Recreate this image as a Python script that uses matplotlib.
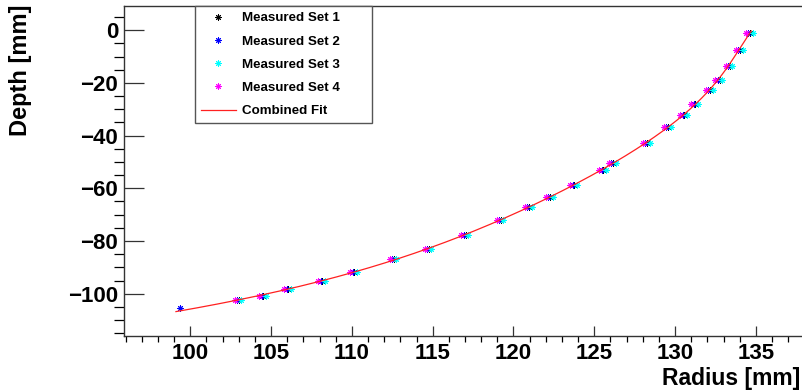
import matplotlib

matplotlib.use("Agg")
import matplotlib.pyplot as plt  # noqa: E402
import numpy as np  # noqa: E402
from matplotlib.ticker import MultipleLocator  # noqa: E402

plt.rcParams.update({"font.family": ["Liberation Sans", "DejaVu Sans"], "font.weight": "bold"})

# probe depth positions [mm]
depth = [-105.6, -102.5, -100.8, -98.4, -95.0, -91.7, -87.0, -83.0, -77.7, -72.2, -67.0, -63.4,
         -58.9, -53.2, -50.5, -42.8, -36.7, -32.1, -28.0, -22.6, -18.7, -13.4, -7.5, -1.1]

# measured radius per set [mm]; set 2 also has the deepest point
radius_set1 = [103.00, 104.51, 106.06, 108.16, 110.16, 112.59, 114.76, 117.04, 119.21, 120.96,
               122.26, 123.76, 125.56, 126.16, 128.26, 129.56, 130.56, 131.26, 132.16, 132.76,
               133.39, 134.02, 134.64]
radius_set2 = [99.38, 102.90, 104.41, 105.96, 108.06, 110.06, 112.49, 114.66, 116.94, 119.11,
               120.86, 122.16, 123.66, 125.46, 126.06, 128.16, 129.46, 130.46, 131.16, 132.06,
               132.66, 133.29, 133.92, 134.54]
radius_set3 = [103.16, 104.67, 106.22, 108.32, 110.32, 112.75, 114.92, 117.20, 119.37, 121.12,
               122.42, 123.92, 125.72, 126.32, 128.42, 129.72, 130.72, 131.42, 132.32, 132.92,
               133.55, 134.18, 134.80]
radius_set4 = [102.74, 104.25, 105.80, 107.90, 109.90, 112.33, 114.50, 116.78, 118.95, 120.70,
               122.00, 123.50, 125.30, 125.90, 128.00, 129.30, 130.30, 131.00, 131.90, 132.50,
               133.13, 133.76, 134.38]

set_names = ["Measured Set 1", "Measured Set 2", "Measured Set 3", "Measured Set 4"]
set_colors = ["black", "#0000ff", "#00ffff", "#ff00ff"]
fit_depth_range = (-106.8, -0.3)

W, H = 803, 392
fig = plt.figure(figsize=(W / 100, H / 100), dpi=100)
ax = fig.add_axes([124 / W, 1 - 336 / H, 682 / W, 330 / H])

asterisk = (8, 2, 0)
sets = [radius_set1, radius_set2, radius_set3, radius_set4]
for name, color, rad in zip(set_names, set_colors, sets):
    d = depth[len(depth) - len(rad):]
    ax.plot(rad, d, ls="none", marker=asterisk, ms=4.5, mew=0.7, color=color, label=name)

# combined fit: radius as a polynomial in depth over all sets
all_r = np.concatenate([np.asarray(r) for r in sets])
all_d = np.concatenate([np.asarray(depth[len(depth) - len(r):]) for r in sets])
coef = np.polyfit(all_d, all_r, 5)
dd = np.linspace(*fit_depth_range, 300)
ax.plot(np.polyval(coef, dd), dd, color="#ff2020", lw=0.9, label="Combined Fit")

ax.set_xlim(95.9, 138.1)
ax.set_ylim(-116.06, 9.2)

ax.xaxis.set_major_locator(MultipleLocator(5))
ax.xaxis.set_minor_locator(MultipleLocator(1))
ax.yaxis.set_major_locator(MultipleLocator(20))
ax.yaxis.set_minor_locator(MultipleLocator(5))
ax.tick_params(direction="in", colors="#333333", labelcolor="black", labelsize=16)
ax.tick_params(axis="x", which="major", length=7.2, width=0.9, pad=5)
ax.tick_params(axis="x", which="minor", length=4.0, width=0.9)
ax.tick_params(axis="y", which="major", length=14.4, width=0.9, pad=4.3)
ax.tick_params(axis="y", which="minor", length=7.0, width=0.9)
for lab in ax.get_xticklabels() + ax.get_yticklabels():
    lab.set_fontweight("bold")

for side in ("left", "bottom", "top"):
    ax.spines[side].set_color("#333333")
    ax.spines[side].set_linewidth(1.0)
ax.spines["right"].set_visible(False)

fig.text(800 / W, 1 - 385 / H, "Radius [mm]", ha="right", va="baseline", fontsize=16.5,
         fontweight="bold")
fig.text(21 / W, 1 - 5 / H, "Depth [mm]", rotation=90, ha="center", va="top", fontsize=17,
         fontweight="bold")

leg = ax.legend(loc="upper left", bbox_to_anchor=(195 / W, 0, 177 / W, 1 - 6 / H),
                bbox_transform=fig.transFigure, mode="expand", borderaxespad=0,
                fancybox=False, edgecolor="#555555", framealpha=1, numpoints=1,
                prop={"size": 9.6, "weight": "bold"}, handlelength=2.6, handletextpad=0.5,
                borderpad=0.45, labelspacing=0.82)
leg.get_frame().set_linewidth(1.0)

fig.savefig("out.png", dpi=100)
